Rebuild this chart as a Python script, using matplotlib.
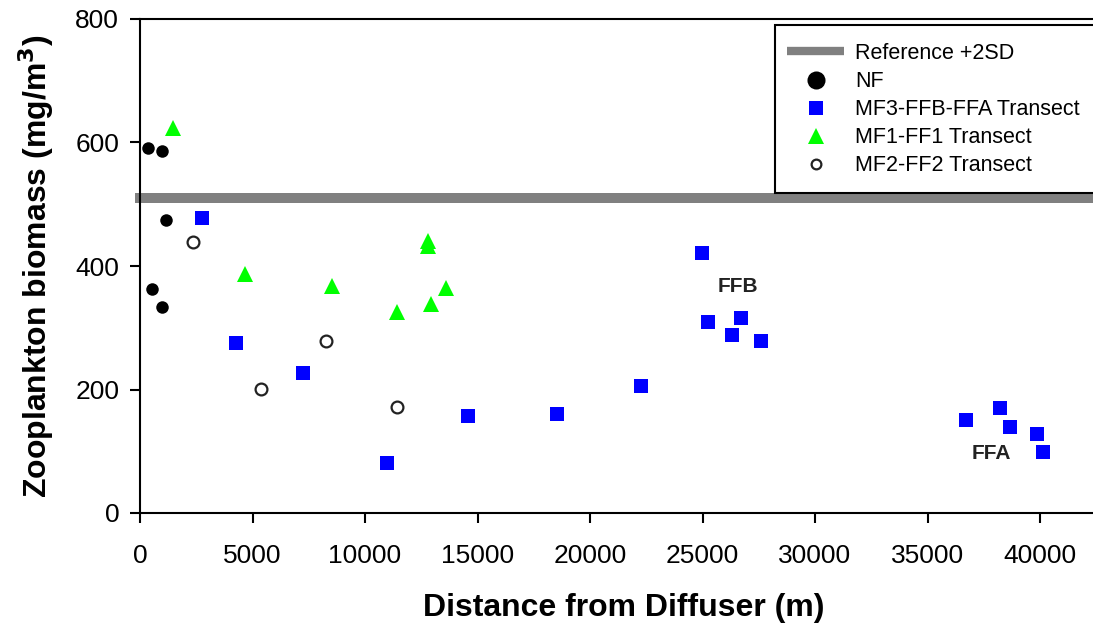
import matplotlib
matplotlib.use("Agg")
import matplotlib.pyplot as plt
from matplotlib.lines import Line2D
from matplotlib.patches import Rectangle

plt.rcParams['font.family'] = ['Liberation Sans', 'DejaVu Sans']

# ---- data ----
nf_x = [360, 980, 1160, 530, 980]
nf_y = [591, 586, 475, 363, 334]

mf3_x = [2760, 4270, 7240, 10980, 14580, 18530, 22270, 24980, 25240,
         26710, 26310, 27600, 36710, 38220, 38670, 39870, 40130]
mf3_y = [477, 275, 227, 81, 157, 160, 206, 421, 309,
         316, 288, 279, 151, 170, 140, 128, 98]

mf1_x = [1470, 4670, 8530, 12800, 12800, 11420, 12930, 13600]
mf1_y = [623, 387, 368, 440, 433, 325, 338, 364]

mf2_x = [2360, 5380, 8270, 11420]
mf2_y = [439, 201, 279, 172]

ref_level = 510
ref_x = [-230, 45000]

site_labels = ["FFB", "FFA"]
site_x = [26580, 37820]
site_y = [366, 96]

x_ticks = [0, 5000, 10000, 15000, 20000, 25000, 30000, 35000, 40000]
y_ticks = [0, 200, 400, 600, 800]

W, H = 1093, 624
fig = plt.figure(figsize=(W / 100, H / 100), dpi=100)
ax = fig.add_axes([140 / W, (H - 513) / H, 967.5 / W, 494 / H])

ax.plot(ref_x, [ref_level, ref_level], color='#808080', lw=7.2,
        solid_capstyle='butt', clip_on=False, zorder=2)

ax.plot(nf_x, nf_y, 'o', color='black', ms=9, mew=0, zorder=3)
ax.plot(mf3_x, mf3_y, 's', color='#0000FF', ms=10, mew=0, zorder=3)
ax.plot(mf1_x, mf1_y, '^', color='#00FF00', ms=12, mew=0, zorder=3)
ax.plot(mf2_x, mf2_y, 'o', mfc='white', mec='#222222', ms=8.5, mew=1.6, zorder=3)

for lab, lx, ly in zip(site_labels, site_x, site_y):
    ax.text(lx, ly, lab, fontsize=15, fontweight='bold', color='#222222',
            ha='center', va='center')

ax.set_xlim(0, 43000)
ax.set_ylim(0, 800)
ax.set_xticks(x_ticks)
ax.set_yticks(y_ticks)
ax.tick_params(axis='both', direction='out', length=7, width=1.5,
               labelsize=19, colors='black')
ax.tick_params(axis='y', pad=8)
ax.tick_params(axis='x', pad=15)
for s in ax.spines.values():
    s.set_linewidth(1.5)

ax.set_xlabel("Distance from Diffuser (m)", fontsize=23, fontweight='bold',
              labelpad=18)
ax.set_ylabel("Zooplankton biomass (mg/m$^\\mathbf{3}$)", fontsize=23,
              fontweight='bold', labelpad=14)

# legend frame (box runs off the right edge, as in the reference)
frame = Rectangle((775 / W, 1 - 193 / H), 340 / W, 168 / H,
                  transform=fig.transFigure, facecolor='white',
                  edgecolor='black', lw=1.5, zorder=5, clip_on=False)
fig.patches.append(frame)

handles = [
    Line2D([], [], color='#808080', lw=6, solid_capstyle='butt'),
    Line2D([], [], ls='none', marker='o', color='black', ms=13, mew=0),
    Line2D([], [], ls='none', marker='s', color='#0000FF', ms=9.5, mew=0),
    Line2D([], [], ls='none', marker='^', color='#00FF00', ms=11, mew=0),
    Line2D([], [], ls='none', marker='o', mfc='white', mec='#222222', ms=7, mew=1.6),
]
labels = ["Reference +2SD", "NF", "MF3-FFB-FFA Transect", "MF1-FF1 Transect",
          "MF2-FF2 Transect"]
leg = fig.legend(handles, labels, loc='upper left',
                 bbox_to_anchor=(787 / W, 1 - 43 / H),
                 fontsize=15.5, frameon=False,
                 borderpad=0, labelspacing=0.33, handlelength=2.65,
                 handletextpad=0.5, borderaxespad=0)
leg.set_zorder(6)

fig.savefig("out.png", dpi=100)
